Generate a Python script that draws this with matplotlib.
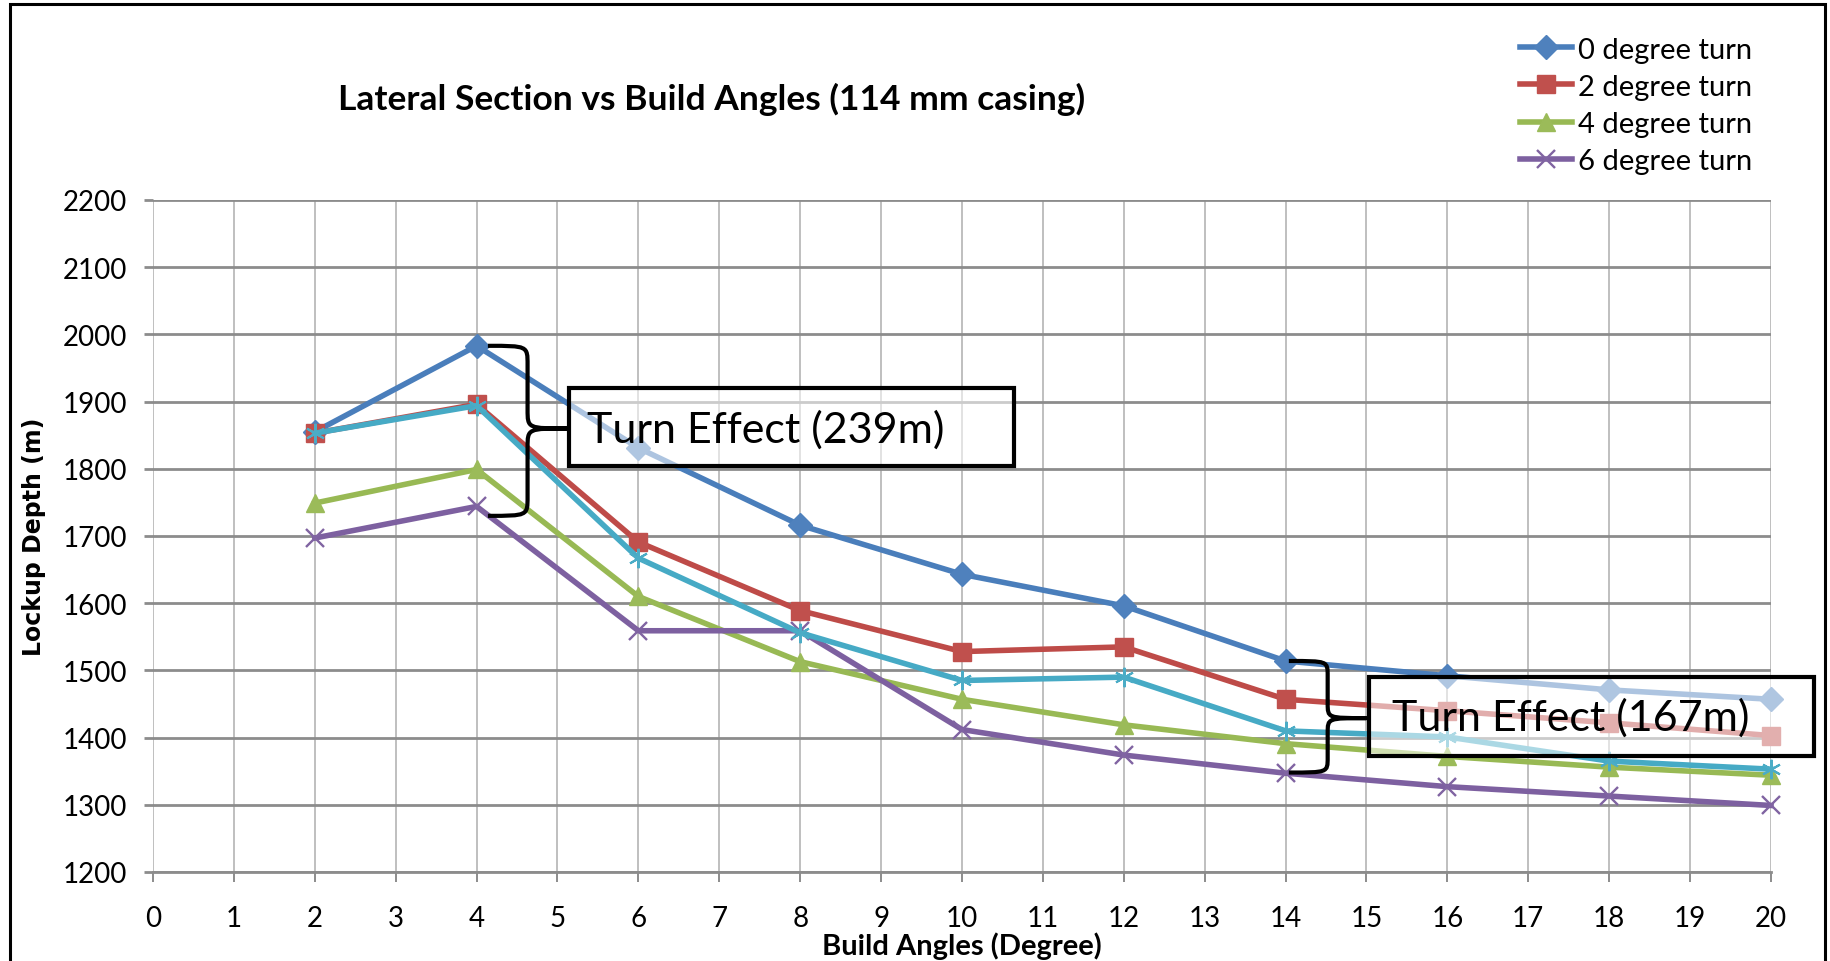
import matplotlib
matplotlib.use("Agg")
import matplotlib.pyplot as plt
from matplotlib.path import Path
from matplotlib.patches import PathPatch, Rectangle

# data
angles = [2, 4, 6, 8, 10, 12, 14, 16, 18, 20]
turn_0 = [1855, 1983, 1831, 1716, 1643, 1596, 1514, 1492, 1471, 1457]
turn_2 = [1853, 1896, 1691, 1589, 1528, 1535, 1457, 1440, 1422, 1403]
turn_4 = [1749, 1799, 1610, 1513, 1457, 1419, 1391, 1372, 1356, 1344]
turn_6 = [1697, 1744, 1559, 1559, 1412, 1374, 1347, 1327, 1313, 1299]
turn_x = [1853, 1894, 1667, 1556, 1485, 1490, 1410, 1401, 1365, 1353]  # 5th series, cut from legend
legend_labels = ["0 degree turn", "2 degree turn", "4 degree turn", "6 degree turn"]
x_ticks = list(range(0, 21))
y_ticks = list(range(1200, 2201, 100))
note_1 = "Turn Effect (239m)"
note_2 = "Turn Effect (167m)"

FONT = ["Lato", "DejaVu Sans"]
plt.rcParams["font.family"] = FONT

W, H = 1831, 962
fig = plt.figure(figsize=(W / 100, H / 100), dpi=100)
ax = fig.add_axes([153 / W, 1 - 873 / H, (1771 - 153) / W, (873 - 201) / H])

# outer chart frame
fig.patches.append(Rectangle((10 / W, -0.02), (1825 - 10) / W, 1 - 5 / H + 0.02,
                             transform=fig.transFigure, fill=False, ec="black", lw=2.2))

styles = [
    (turn_0, "#4A7EBB", "#4F81BD", "D", 12, 1.0),
    (turn_2, "#BE4B48", "#C0504D", "s", 12.5, 1.0),
    (turn_4, "#98B954", "#9BBB59", "^", 13.5, 1.0),
    (turn_6, "#7D60A0", "#8064A2", "x", 12.5, 1.7),
    (turn_x, "#46AAC5", "#4BACC6", (6, 2, 0), 14, 1.5),
]
handles = []
for i, (ys, lc, mc, mk, ms, mew) in enumerate(styles):
    h, = ax.plot(angles, ys, color=lc, lw=4.0, marker=mk, ms=ms, mfc=mc, mec=mc, mew=mew,
                 zorder=3 + i * 0.1, clip_on=False)
    handles.append(h)

ax.set_xlim(0, 20)
ax.set_ylim(1200, 2200)
ax.set_xticks(x_ticks)
ax.set_yticks(y_ticks)
ax.grid(axis="x", color="#BFBFBF", lw=1.4)
ax.grid(axis="y", color="#8C8C8C", lw=2.0)
ax.set_axisbelow(True)
for s in ["top", "right", "left"]:
    ax.spines[s].set_visible(False)
ax.spines["bottom"].set_color("#8C8C8C")
ax.spines["bottom"].set_linewidth(2.0)
ax.tick_params(axis="x", length=7, width=1.4, color="#8C8C8C", labelsize=20, pad=17)
ax.tick_params(axis="y", length=6.5, width=2.0, color="#8C8C8C", labelsize=20, pad=12)

ax.set_xlabel("Build Angles (Degree)", fontsize=21, fontweight="bold", labelpad=0)
ax.set_ylabel("Lockup Depth (m)", fontsize=17, fontweight="bold", family="DejaVu Sans",
              labelpad=12)
fig.text(712 / W, 1 - 99 / H, "Lateral Section vs Build Angles (114 mm casing)",
         fontsize=25.5, fontweight="bold", ha="center", va="center")

fig.legend(handles[:4], legend_labels, loc="upper left", bbox_to_anchor=(1505 / W, 1 - 23 / H),
           bbox_transform=fig.transFigure, frameon=False, fontsize=21, borderpad=0,
           handlelength=1.8, handletextpad=0.2, labelspacing=0.38)


def brace(x0, xs, xt, yt, yb, ym, r):
    verts = [(x0, yt), (xs, yt), (xs, yt), (xs, yt - r),
             (xs, ym + r), (xs, ym), (xs, ym), (xt, ym),
             (xs, ym), (xs, ym), (xs, ym - r),
             (xs, yb + r), (xs, yb), (xs, yb), (x0, yb)]
    codes = [Path.MOVETO, Path.CURVE4, Path.CURVE4, Path.CURVE4,
             Path.LINETO, Path.CURVE4, Path.CURVE4, Path.CURVE4,
             Path.CURVE4, Path.CURVE4, Path.CURVE4,
             Path.LINETO, Path.CURVE4, Path.CURVE4, Path.CURVE4]
    ax.add_patch(PathPatch(Path(verts, codes), fill=False, ec="black", lw=3.0,
                           zorder=6, clip_on=False))


def note_box(x0, x1, y0, y1, text, tx, ty):
    ax.add_patch(Rectangle((x0, y0), x1 - x0, y1 - y0, fc=(1, 1, 1, 0.55), ec="black",
                           lw=3.0, zorder=7, clip_on=False))
    ax.text(tx, ty, text, fontsize=31, ha="left", va="center", zorder=8, clip_on=False)


brace(4.14, 4.63, 5.14, 1983, 1730, 1860, 28)
note_box(5.14, 10.64, 1804, 1920, note_1, 5.36, 1859)
brace(14.04, 14.52, 15.0, 1514, 1348, 1429, 22)
note_box(15.03, 20.53, 1373, 1490, note_2, 15.31, 1431)

fig.savefig("out.png", dpi=100)
